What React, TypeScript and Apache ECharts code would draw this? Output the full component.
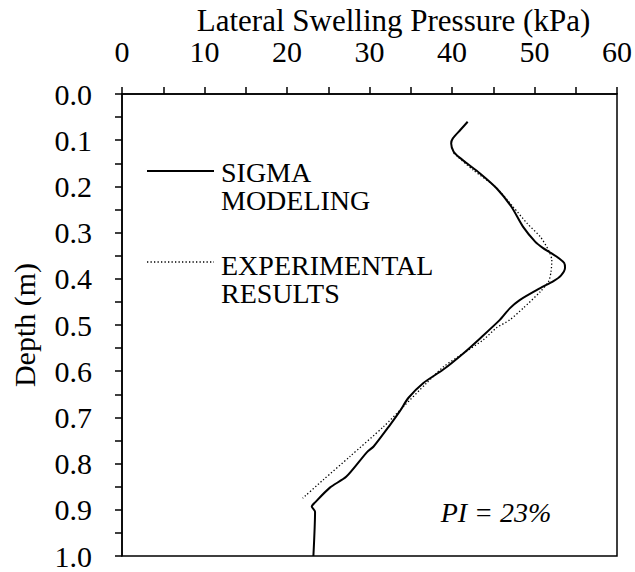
import React, { useEffect, useRef } from "react";
import * as echarts from "echarts";

// Lateral swelling pressure (kPa) vs depth (m)
const sigmaPressure = [41.9, 41.0, 40.1, 39.9, 40.2, 40.8, 41.8, 43.4, 45.4, 47.2, 48.6, 50.1, 51.0, 51.9, 53.0, 53.6, 53.7, 53.2, 52.3, 50.7, 48.2, 47.0, 45.8, 43.4, 41.4, 38.9, 36.5, 34.7, 33.7, 32.5, 30.5, 29.7, 27.2, 25.2, 23.4, 23.0, 23.4, 23.2];
const sigmaDepth = [0.06, 0.078, 0.096, 0.107, 0.125, 0.136, 0.15, 0.172, 0.204, 0.244, 0.287, 0.32, 0.333, 0.343, 0.356, 0.366, 0.376, 0.393, 0.405, 0.42, 0.446, 0.464, 0.489, 0.529, 0.561, 0.597, 0.626, 0.658, 0.686, 0.716, 0.763, 0.775, 0.828, 0.852, 0.884, 0.893, 0.904, 1.0];

const expPressure = [40.2, 42.6, 45.2, 47.4, 49.1, 50.7, 51.7, 52.1, 52.0, 51.7, 50.7, 48.6, 47.0, 45.4, 43.8, 41.4, 39.0, 36.9, 34.1, 31.7, 27.6, 24.4, 21.9];
const expDepth = [0.128, 0.165, 0.2, 0.244, 0.28, 0.309, 0.338, 0.36, 0.385, 0.406, 0.428, 0.464, 0.489, 0.506, 0.532, 0.561, 0.59, 0.626, 0.677, 0.72, 0.785, 0.835, 0.875];

const seriesNames = ["SIGMA\nMODELING", "EXPERIMENTAL\nRESULTS"];
const xTitle = "Lateral Swelling Pressure (kPa)";
const yTitle = "Depth (m)";
const note = "PI = 23%";

const FONT = '"Liberation Serif", "Times New Roman", serif';

export default function App() {
  const ref = useRef<HTMLDivElement>(null);
  useEffect(() => {
    if (!ref.current) return;
    const chart = echarts.init(ref.current, undefined, { renderer: "svg" });
    const sigma = sigmaPressure.map((p, i) => [p, sigmaDepth[i]]);
    const exp = expPressure.map((p, i) => [p, expDepth[i]]);
    const [n1a, n1b] = seriesNames[0].split("\n");
    const [n2a, n2b] = seriesNames[1].split("\n");
    chart.setOption({
      animation: false,
      backgroundColor: "#fff",
      grid: {
        left: 122,
        top: 94,
        width: 495,
        height: 462,
        show: true,
        borderColor: "#000",
        borderWidth: 1.5,
        backgroundColor: "transparent",
      },
      xAxis: {
        type: "value",
        position: "top",
        min: 0,
        max: 60,
        interval: 10,
        axisLine: { show: true, lineStyle: { color: "#000", width: 1.5 } },
        axisTick: { show: true, length: 7, lineStyle: { color: "#000", width: 1.5 } },
        minorTick: { show: true, splitNumber: 2, length: 7, lineStyle: { color: "#000", width: 1.5 } },
        splitLine: { show: false },
        axisLabel: { color: "#000", fontFamily: FONT, fontSize: 30, lineHeight: 28, margin: 29 },
      },
      yAxis: {
        type: "value",
        inverse: true,
        min: 0,
        max: 1,
        interval: 0.1,
        name: yTitle,
        nameLocation: "middle",
        nameRotate: 90,
        nameGap: 83,
        nameTextStyle: { color: "#000", fontFamily: FONT, fontSize: 30 },
        axisLine: { show: true, lineStyle: { color: "#000", width: 1.5 } },
        axisTick: { show: true, length: 7, lineStyle: { color: "#000", width: 1.5 } },
        minorTick: { show: true, splitNumber: 2, length: 7, lineStyle: { color: "#000", width: 1.5 } },
        splitLine: { show: false },
        axisLabel: {
          color: "#000",
          fontFamily: FONT,
          fontSize: 30,
          lineHeight: 28,
          margin: 30,
          formatter: (v: number) => v.toFixed(1),
        },
      },
      series: [
        {
          name: seriesNames[0],
          type: "line",
          data: sigma,
          showSymbol: false,
          smooth: 0.25,
          lineStyle: { color: "#000", width: 2 },
        },
        {
          name: seriesNames[1],
          type: "line",
          data: exp,
          showSymbol: false,
          smooth: 0.25,
          lineStyle: { color: "#000", width: 1.3, type: [1.3, 2.2] },
        },
      ],
      graphic: [
        {
          type: "text",
          x: 393.5,
          y: 20,
          style: { text: xTitle, fill: "#000", font: `31px ${FONT}`, lineHeight: 28, align: "center", verticalAlign: "middle" },
        },
        {
          type: "line",
          shape: { x1: 147, y1: 171, x2: 214, y2: 171 },
          style: { stroke: "#000", lineWidth: 2 },
        },
        {
          type: "text",
          x: 221,
          y: 172,
          style: { text: n1a, fill: "#000", font: `28px ${FONT}`, align: "left", verticalAlign: "middle" },
        },
        {
          type: "text",
          x: 221,
          y: 200.5,
          style: { text: n1b, fill: "#000", font: `28px ${FONT}`, align: "left", verticalAlign: "middle" },
        },
        {
          type: "line",
          shape: { x1: 147, y1: 262, x2: 214, y2: 262 },
          style: { stroke: "#000", lineWidth: 1.3, lineDash: [1.3, 2.2] },
        },
        {
          type: "text",
          x: 221,
          y: 265.5,
          style: { text: n2a, fill: "#000", font: `28px ${FONT}`, align: "left", verticalAlign: "middle" },
        },
        {
          type: "text",
          x: 221,
          y: 293.5,
          style: { text: n2b, fill: "#000", font: `28px ${FONT}`, align: "left", verticalAlign: "middle" },
        },
        {
          type: "text",
          x: 496,
          y: 512,
          style: { text: note, fill: "#000", font: `italic 28px ${FONT}`, align: "center", verticalAlign: "middle" },
        },
      ],
    });
    return () => chart.dispose();
  }, []);
  return (
    <div
      ref={ref}
      style={{ position: "fixed", left: 0, top: 0, width: 635, height: 572, background: "#fff" }}
    />
  );
}
